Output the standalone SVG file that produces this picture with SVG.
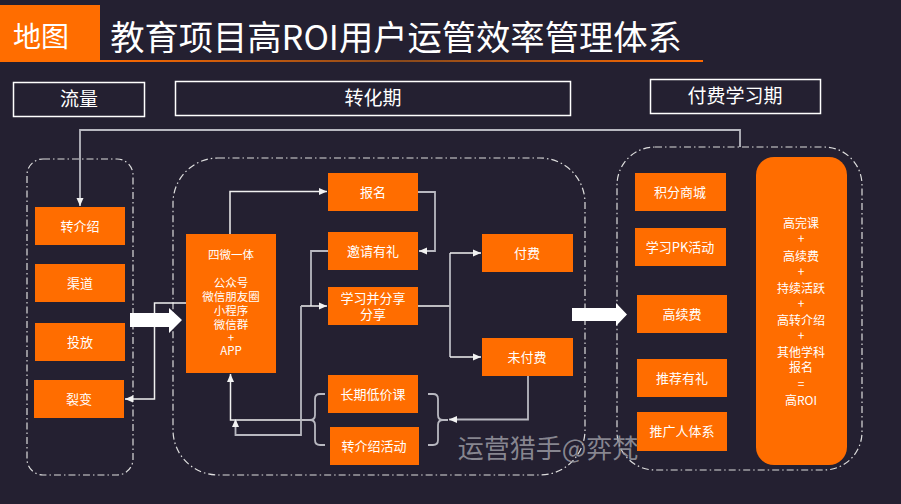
<svg xmlns="http://www.w3.org/2000/svg" width="901" height="504" viewBox="0 0 901 504">
<defs>
<linearGradient id="ul" x1="0" y1="0" x2="1" y2="0">
<stop offset="0" stop-color="#ff6a00"/>
<stop offset="0.5" stop-color="#8a4a1c"/>
<stop offset="1" stop-color="#ff6a00"/>
</linearGradient>
<marker id="ah" viewBox="0 0 8 8" refX="8" refY="4" markerWidth="8" markerHeight="8" markerUnits="userSpaceOnUse" orient="auto">
<path d="M0,0.5 L8,4 L0,7.5 z" fill="#f2f2f2"/>
</marker>
<style>
text{font-family:"Noto Sans CJK SC","Noto Sans",sans-serif;fill:#fff;text-anchor:middle}
.box{fill:#ff6d00}
.lbl{font-size:13px}
.sec{fill:none;stroke:#fff;stroke-width:1.5}
.sect{font-size:19px}
.dash{fill:none;stroke:#ddd;stroke-width:1.2;stroke-dasharray:7 3 1.5 3}
.ln{fill:none;stroke:#f0f0f0;stroke-width:1.5}
.lg{fill:none;stroke:#b8b8c0;stroke-width:1.8}
.big{fill:#fff}
.sm{font-size:11.5px}
.r{font-size:12px}
</style>
</defs>
<rect width="901" height="504" fill="#242031"/>

<g id="header">
<rect x="0" y="5" width="100" height="57" fill="#ff6d00"/>
<text x="41" y="47" style="font-size:28px">地图</text>
<text x="396" y="50" style="font-size:34.3px">教育项目高ROI用户运管效率管理体系</text>
<rect x="100" y="60" width="603" height="2" fill="url(#ul)"/>
</g>

<g id="sec-liuliang">
<rect class="sec" x="13.5" y="82.5" width="131" height="34"/>
<text class="sect" x="79" y="106">流量</text>
</g>
<g id="sec-zhuanhua">
<rect class="sec" x="175.5" y="81.5" width="395" height="34"/>
<text class="sect" x="373" y="105">转化期</text>
</g>
<g id="sec-fufei">
<rect class="sec" x="650.5" y="79.5" width="170" height="34"/>
<text class="sect" x="735" y="103">付费学习期</text>
</g>

<g id="regions">
<rect class="dash" x="27" y="159" width="106" height="316" rx="16" ry="16"/>
<rect class="dash" x="173" y="158" width="412" height="317" rx="45" ry="45"/>
<rect class="dash" x="617" y="147" width="245" height="323" rx="38" ry="38"/>
</g>

<g id="connectors">
<path class="lg" d="M740,147 V130 H80 V206" marker-end="url(#ah)"/>
<path class="ln" d="M186,303 H154.5 V399 H125" marker-end="url(#ah)"/>
<path class="ln" d="M230,234 V191.5 H327" marker-end="url(#ah)"/>
<path class="lg" d="M418,192 H435 V251 H419" marker-end="url(#ah)"/>
<path class="lg" d="M328,251 H311 V306"/>
<path class="ln" d="M301,306 H327" marker-end="url(#ah)"/>
<path class="ln" d="M418,306 H450"/>
<path class="lg" d="M450,253 V357"/>
<path class="ln" d="M450,253 H481" marker-end="url(#ah)"/>
<path class="ln" d="M450,357 H481" marker-end="url(#ah)"/>
<path class="lg" d="M528,376 V419.5 H449" marker-end="url(#ah)"/>
<path class="lg" d="M428,394 H433 Q438,394 438,399 V415 Q438,420 443,420 H448 M443,420 Q438,420 438,425 V440 Q438,445 433,445 H428"/>
<path class="lg" d="M325,394 H320 Q315,394 315,399 V415 Q315,420 310,420 H305 M310,420 Q315,420 315,425 V440 Q315,445 320,445 H325"/>
<path class="ln" d="M305,420 H230.5 V374" marker-end="url(#ah)"/>
<path class="lg" d="M301,306 V435 H235.5 V419" marker-end="url(#ah)"/>
<path class="big" d="M130,313 H169 V308 L182,320 L169,333 V327 H130 z"/>
<path class="big" d="M572,308 H616 V303 L627,314.5 L616,326 V321 H572 z"/>
</g>

<g id="n-zhuanjieshao"><rect class="box" x="35" y="207" width="90" height="38"/><text class="lbl" x="80" y="231">转介绍</text></g>
<g id="n-qudao"><rect class="box" x="35" y="264" width="90" height="38"/><text class="lbl" x="80" y="288">渠道</text></g>
<g id="n-toufang"><rect class="box" x="35" y="323" width="90" height="38"/><text class="lbl" x="80" y="347">投放</text></g>
<g id="n-liebian"><rect class="box" x="34" y="380" width="90" height="38"/><text class="lbl" x="79" y="404">裂变</text></g>

<g id="n-siwei">
<rect class="box" x="186" y="234" width="90" height="139"/>
<text class="sm" x="231" y="259">四微一体</text>
<text class="sm" x="231" y="287">公众号</text>
<text class="sm" x="231" y="301">微信朋友圈</text>
<text class="sm" x="231" y="315">小程序</text>
<text class="sm" x="231" y="329">微信群</text>
<text class="sm" x="231" y="342">+</text>
<text class="sm" x="231" y="355">APP</text>
</g>

<g id="n-baoming"><rect class="box" x="328" y="173" width="90" height="38"/><text class="lbl" x="373" y="197">报名</text></g>
<g id="n-yaoqing"><rect class="box" x="328" y="232" width="90" height="38"/><text class="lbl" x="373" y="256">邀请有礼</text></g>
<g id="n-xuexi"><rect class="box" x="328" y="287" width="90" height="38"/><text class="lbl" x="373" y="303">学习并分享</text><text class="lbl" x="373" y="319">分享</text></g>
<g id="n-fufei"><rect class="box" x="482" y="234" width="91" height="38"/><text class="lbl" x="527" y="258">付费</text></g>
<g id="n-weifufei"><rect class="box" x="482" y="338" width="91" height="38"/><text class="lbl" x="527" y="362">未付费</text></g>
<g id="n-changqi"><rect class="box" x="328" y="375" width="90" height="38"/><text class="lbl" x="373" y="399">长期低价课</text></g>
<g id="n-zjshd"><rect class="box" x="330" y="427" width="89" height="38"/><text class="lbl" x="374" y="451">转介绍活动</text></g>

<g id="n-jifen"><rect class="box" x="635" y="173" width="91" height="38"/><text class="lbl" x="680" y="197">积分商城</text></g>
<g id="n-pk"><rect class="box" x="635" y="228" width="91" height="38"/><text class="lbl" x="680" y="252">学习PK活动</text></g>
<g id="n-gaoxufei"><rect class="box" x="637" y="295" width="90" height="38"/><text class="lbl" x="682" y="319">高续费</text></g>
<g id="n-tuijian"><rect class="box" x="637" y="359" width="90" height="38"/><text class="lbl" x="682" y="383">推荐有礼</text></g>
<g id="n-tuiguang"><rect class="box" x="637" y="412" width="90" height="39"/><text class="lbl" x="682" y="436">推广人体系</text></g>

<g id="n-roi">
<rect class="box" x="756" y="157" width="91" height="308" rx="18" ry="18"/>
<text class="r" x="801" y="228">高完课</text>
<text class="r" x="801" y="243">+</text>
<text class="r" x="801" y="261">高续费</text>
<text class="r" x="801" y="276">+</text>
<text class="r" x="801" y="293">持续活跃</text>
<text class="r" x="801" y="308">+</text>
<text class="r" x="801" y="325">高转介绍</text>
<text class="r" x="801" y="340">+</text>
<text class="r" x="801" y="357">其他学科</text>
<text class="r" x="801" y="372">报名</text>
<text class="r" x="801" y="388">=</text>
<text class="r" x="801" y="405">高ROI</text>
</g>

<text x="548" y="458" style="font-size:26px;fill:#9a9aa2;fill-opacity:0.85">运营猎手@弈梵</text>
</svg>
